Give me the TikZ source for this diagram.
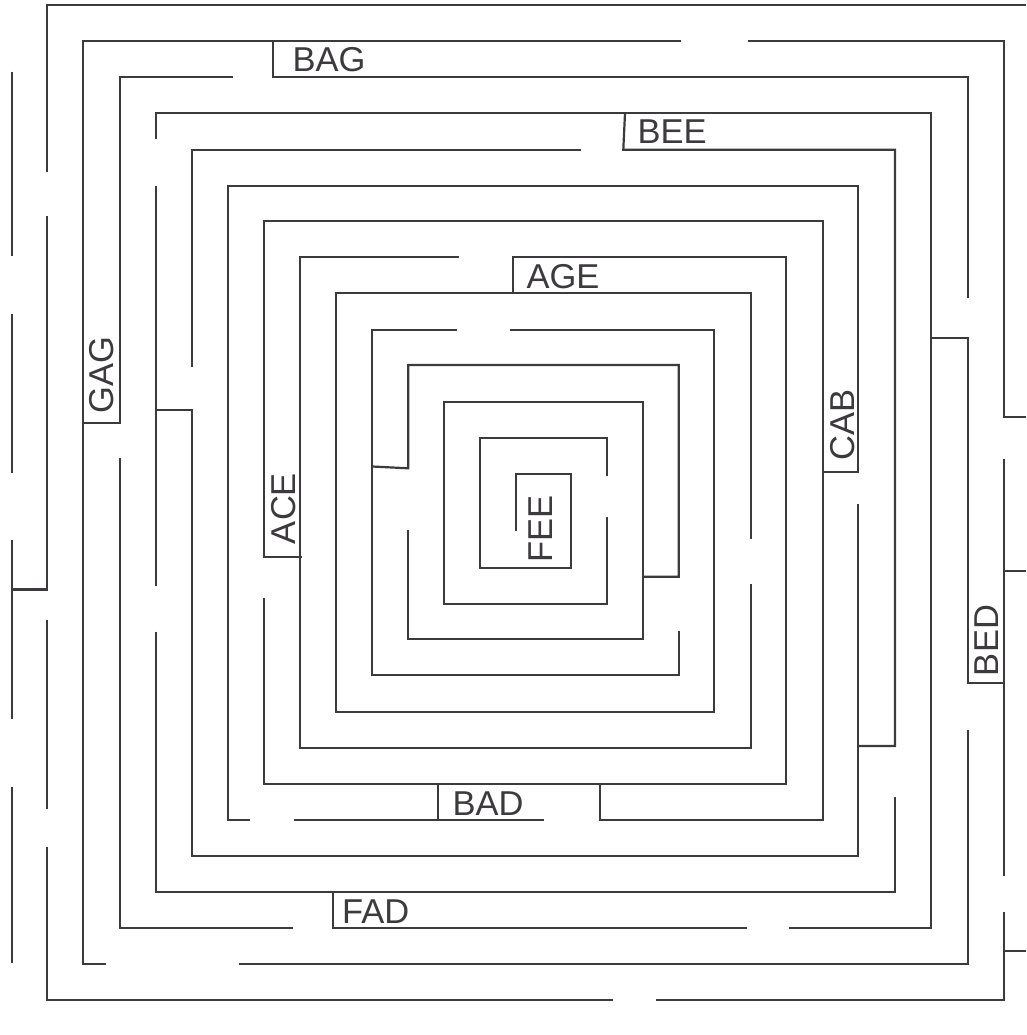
\documentclass[tikz,border=0pt]{standalone}
\usepackage{fontspec}
\setmainfont{Liberation Sans}
\definecolor{wall}{RGB}{60,58,61}
\begin{document}
\begin{tikzpicture}[x=1pt,y=-1pt,
  mz/.style={draw=wall,line width=2.2pt,line join=miter},
  lbl/.style={inner sep=0pt,outer sep=0pt,text=wall,font=\fontsize{34.5}{40}\selectfont}]
\useasboundingbox[fill=white] (0,0) rectangle (1026,1035);
% outer walls
\draw[mz] (1026,4.7) -- (47.3,4.7) -- (47.3,172.3);
\draw[mz] (11.7,540) -- (11.7,719.3);
\draw[mz] (11.7,589.5) -- (47.3,589.5) -- (47.3,215.7);
\draw[mz] (47.3,620) -- (47.3,809.3);
\draw[mz] (47.3,846.7) -- (47.3,1000.3) -- (613.3,1000.3);
\draw[mz] (656,1000.3) -- (1003.7,1000.3) -- (1003.7,911.7);
\draw[mz] (1003.7,950.7) -- (1026,950.7);
\draw[mz] (11.7,71.7) -- (11.7,256);
\draw[mz] (11.7,314) -- (11.7,472.7);
\draw[mz] (11.7,787.3) -- (11.7,963.3);
% ring walls
\draw[mz] (681,41) -- (83.3,41) -- (83.3,964.3) -- (106,964.3);
\draw[mz] (747.7,41) -- (1003.7,41) -- (1003.7,416.7) -- (1026,416.7);
\draw[mz] (1003.7,459.3) -- (1003.7,876);
\draw[mz] (1003.7,571) -- (1026,571);
\draw[mz] (273.3,41) -- (273.3,76.7) -- (968,76.7) -- (968,298.3);
\draw[mz] (233.3,76.7) -- (119.7,76.7) -- (119.7,423.3) -- (83.3,423.3);
\draw[mz] (119.7,458.3) -- (119.7,928.3) -- (293.3,928.3);
\draw[mz] (333.3,892.3) -- (333.3,928.3) -- (746.7,928.3);
\draw[mz] (789.3,928.3) -- (931.3,928.3) -- (931.3,113.3) -- (155.7,113.3) -- (155.7,139.3);
\draw[mz] (931.3,338.3) -- (968,338.3) -- (968,683.3) -- (1003.7,683.3);
\draw[mz] (968,730) -- (968,964.3) -- (239,964.3);
\draw[mz] (625,113.3) -- (623.3,149.7) -- (895,149.7) -- (895,746) -- (858.3,746);
\draw[mz] (581,149.7) -- (191.7,149.7) -- (191.7,366.7);
\draw[mz] (155.7,185.7) -- (155.7,586);
\draw[mz] (155.7,410) -- (191.7,410) -- (191.7,856) -- (858.3,856) -- (858.3,504.3);
\draw[mz] (155.7,631.7) -- (155.7,892.3) -- (895.3,892.3) -- (895.3,796.7);
\draw[mz] (250,820) -- (227.7,820) -- (227.7,185.7) -- (858.3,185.7) -- (858.3,471.7) -- (822.7,471.7);
\draw[mz] (301.7,556.7) -- (263.7,556.7) -- (263.7,221.3) -- (822.7,221.3) -- (822.7,820) -- (600,820) -- (600,783.7);
\draw[mz] (294.3,820) -- (544,820);
\draw[mz] (438.3,783.7) -- (438.3,820);
\draw[mz] (263.7,597.7) -- (263.7,783.7) -- (786.3,783.7) -- (786.3,257.3) -- (513.3,257.3) -- (513.3,293.3);
\draw[mz] (459,257.3) -- (300,257.3) -- (300,748) -- (751,748) -- (751,584);
\draw[mz] (751,539) -- (751,293.3) -- (336,293.3) -- (336,711.7) -- (714.3,711.7) -- (714.3,330) -- (510,330);
\draw[mz] (456.7,330) -- (372.3,330) -- (372.3,675) -- (678.7,675) -- (678.7,630.7);
\draw[mz] (372.3,466.5) -- (408.3,468.3) -- (408.3,365) -- (678.7,365) -- (678.7,576.7) -- (642.7,576.7);
\draw[mz] (408.3,530) -- (408.3,639) -- (642.7,639) -- (642.7,401.7) -- (444.3,401.7) -- (444.3,604) -- (606.7,604) -- (606.7,516.7);
\draw[mz] (606.7,476) -- (606.7,438.3) -- (480,438.3) -- (480,567.7) -- (570.7,567.7) -- (570.7,474.3) -- (516,474.3) -- (516,531);
% labels
\node[lbl,anchor=base west] (bag) at (292.5,71.7) {BAG};
\node[lbl,anchor=base west] (bee) at (637.5,143.5) {BEE};
\node[lbl,anchor=base west] (age) at (526.5,288.3) {AGE};
\node[lbl,anchor=base west] (bad) at (452.5,815) {BAD};
\node[lbl,anchor=base west] (fad) at (342.2,923.3) {FAD};
\node[lbl,rotate=90,anchor=base west] (gag) at (113.3,413.4) {GAG};
\node[lbl,rotate=90,anchor=base west] (ace) at (295.7,544) {ACE};
\node[lbl,rotate=90,anchor=base west] (cab) at (854.3,460) {CAB};
\node[lbl,rotate=90,anchor=base west] (bed) at (998.5,676) {BED};
\node[lbl,rotate=90,anchor=base west] (fee) at (552.3,562.8) {FEE};
\end{tikzpicture}
\end{document}
